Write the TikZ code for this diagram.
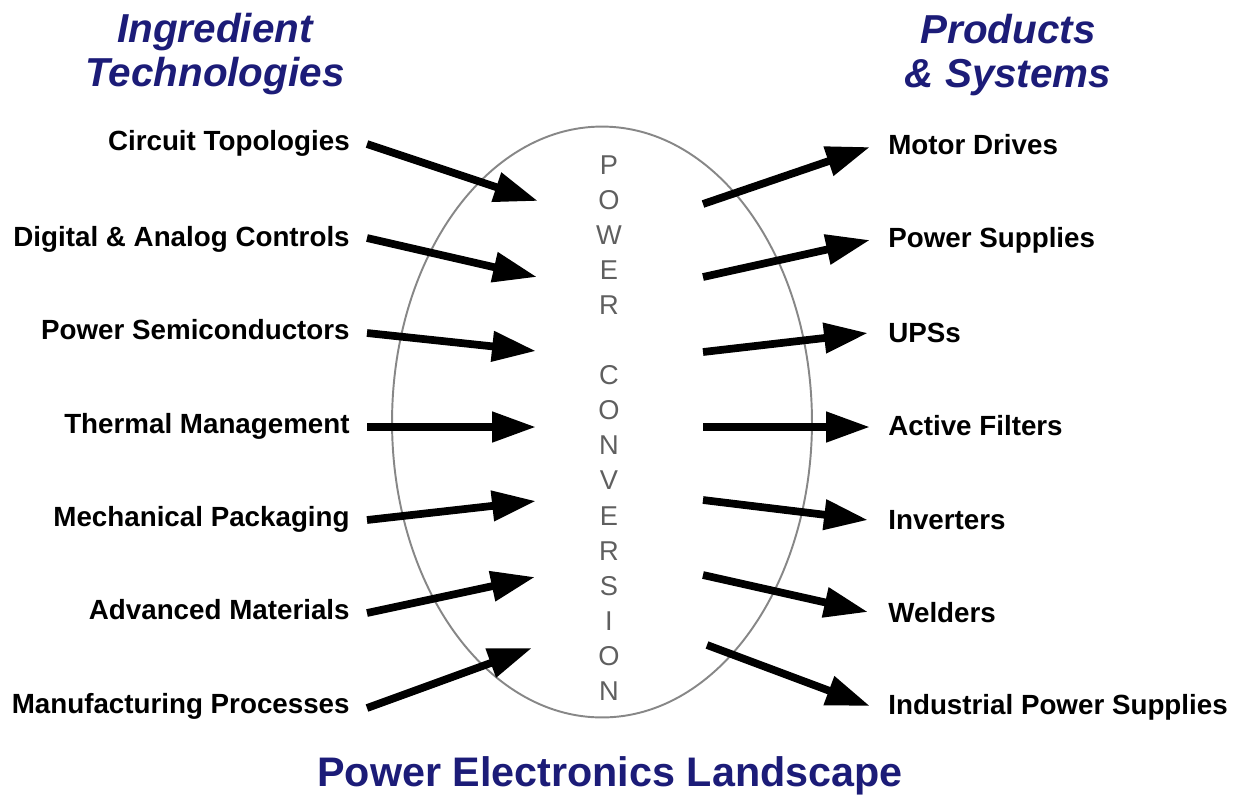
\documentclass[tikz,border=0pt]{standalone}
\usepackage{fontspec}
\setmainfont{Liberation Sans}
\usetikzlibrary{arrows.meta,shapes.geometric}
\definecolor{titleblue}{RGB}{28,28,120}
\definecolor{ringgray}{RGB}{135,135,135}
\definecolor{lettergray}{RGB}{95,95,95}
\tikzset{
  item/.style={font=\bfseries\fontsize{15.8}{18}\selectfont, inner sep=0pt},
  head/.style={font=\bfseries\itshape\fontsize{23}{25}\selectfont, text=titleblue, align=center, inner sep=0pt},
  flow/.style={line width=4.4pt, -{Triangle[length=25pt,width=16.5pt]}},
}
\begin{document}
\begin{tikzpicture}[x=0.02cm,y=-0.02cm]
\useasboundingbox (0,0) rectangle (1236,796);
% core
\node[ellipse, draw=ringgray, line width=1.1pt, minimum width=8.4cm, minimum height=11.82cm, inner sep=0pt] (core) at (602,422){};
\node[font=\fontsize{15.5}{19.96}\selectfont, text=lettergray, align=center, inner sep=0pt] (pc) at (609,428){P\\O\\W\\E\\R\\[19.96pt]C\\O\\N\\V\\E\\R\\S\\I\\O\\N};
% titles
\node[head] (ingr) at (215,54){Ingredient\\Technologies};
\node[head] (prod) at (1008,55){Products\\\& Systems};
\node[font=\bfseries\fontsize{23.5}{26}\selectfont, text=titleblue, inner sep=0pt] (land) at (610,776){Power Electronics Landscape};
% ingredients
\node[item, anchor=east] (in0) at (350,143){Circuit Topologies};
\coordinate (a0) at (367,144);
\coordinate (b0) at (538,201);
\draw[flow](a0) -- (b0);
\node[item, anchor=east] (in1) at (350,239){Digital \& Analog Controls};
\coordinate (a1) at (367,238);
\coordinate (b1) at (537,277);
\draw[flow](a1) -- (b1);
\node[item, anchor=east] (in2) at (350,330){Power Semiconductors};
\coordinate (a2) at (367,333);
\coordinate (b2) at (536,351);
\draw[flow](a2) -- (b2);
\node[item, anchor=east] (in3) at (350,426){Thermal Management};
\coordinate (a3) at (367,427);
\coordinate (b3) at (536,427);
\draw[flow](a3) -- (b3);
\node[item, anchor=east] (in4) at (350,519){Mechanical Packaging};
\coordinate (a4) at (367,520);
\coordinate (b4) at (536,501);
\draw[flow](a4) -- (b4);
\node[item, anchor=east] (in5) at (350,610){Advanced Materials};
\coordinate (a5) at (367,613);
\coordinate (b5) at (535,577);
\draw[flow](a5) -- (b5);
\node[item, anchor=east] (in6) at (350,706){Manufacturing Processes};
\coordinate (a6) at (367,708);
\coordinate (b6) at (532,648);
\draw[flow](a6) -- (b6);
% products
\node[item, anchor=west] (out0) at (888,145){Motor Drives};
\coordinate (c0) at (703,204);
\coordinate (d0) at (870,147);
\draw[flow](c0) -- (d0);
\node[item, anchor=west] (out1) at (888,240){Power Supplies};
\coordinate (c1) at (703,277);
\coordinate (d1) at (870,240);
\draw[flow](c1) -- (d1);
\node[item, anchor=west] (out2) at (888,333){UPSs};
\coordinate (c2) at (703,352);
\coordinate (d2) at (868,333);
\draw[flow](c2) -- (d2);
\node[item, anchor=west] (out3) at (888,426){Active Filters};
\coordinate (c3) at (703,427);
\coordinate (d3) at (870,427);
\draw[flow](c3) -- (d3);
\node[item, anchor=west] (out4) at (888,520){Inverters};
\coordinate (c4) at (703,500);
\coordinate (d4) at (868,520);
\draw[flow](c4) -- (d4);
\node[item, anchor=west] (out5) at (888,613){Welders};
\coordinate (c5) at (703,575);
\coordinate (d5) at (868,612);
\draw[flow](c5) -- (d5);
\node[item, anchor=west] (out6) at (888,707){Industrial Power Supplies};
\coordinate (c6) at (707,645);
\coordinate (d6) at (870,706);
\draw[flow](c6) -- (d6);
\end{tikzpicture}
\end{document}
